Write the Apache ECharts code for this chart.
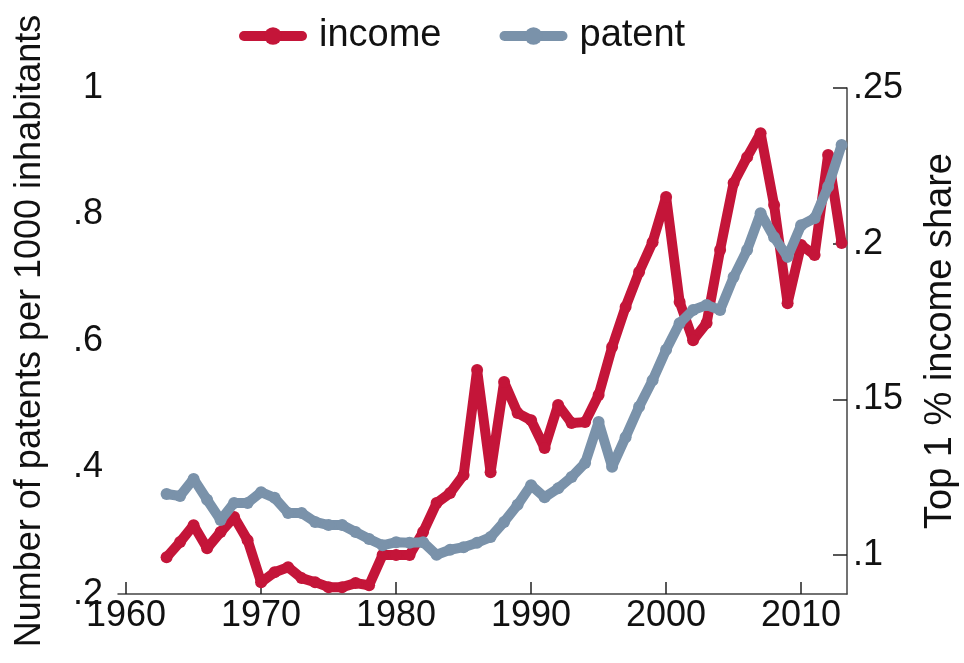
<!DOCTYPE html>
<html>
<head>
<meta charset="utf-8">
<script src="https://cdn.jsdelivr.net/npm/echarts@6/dist/echarts.min.js"></script>
<style>
  html, body { margin: 0; padding: 0; background: #fff; }
  #main { width: 964px; height: 663px; }
</style>
</head>
<body>
<div id="main"></div>
<script>
const years = [];
for (let y = 1963; y <= 2013; y++) years.push(y);

// top 1% income share (right axis)
const income = [
  0.0993, 0.1042, 0.1096, 0.1022, 0.1074, 0.1122, 0.1048, 0.0913, 0.0945, 0.0961,
  0.0926, 0.0913, 0.0897, 0.0897, 0.0910, 0.0903, 0.1000, 0.1000, 0.1000, 0.1074,
  0.1167, 0.1199, 0.1257, 0.1594, 0.1266, 0.1556, 0.1456, 0.1433, 0.1344, 0.1482,
  0.1424, 0.1427, 0.1514, 0.1668, 0.1797, 0.1909, 0.2005, 0.2150, 0.1813, 0.1690,
  0.1745, 0.1980, 0.2195, 0.2278, 0.2355, 0.2124, 0.1809, 0.1996, 0.1964, 0.2285,
  0.2002
];

// patents per 1000 inhabitants (left axis)
const patent = [
  0.358, 0.355, 0.382, 0.349, 0.317, 0.344, 0.344, 0.361, 0.352, 0.328,
  0.328, 0.314, 0.309, 0.309, 0.298, 0.287, 0.277, 0.282, 0.281, 0.282,
  0.262, 0.270, 0.274, 0.281, 0.290, 0.314, 0.341, 0.372, 0.353, 0.367,
  0.385, 0.407, 0.472, 0.401, 0.448, 0.496, 0.538, 0.586, 0.628, 0.649,
  0.657, 0.649, 0.701, 0.744, 0.802, 0.764, 0.733, 0.783, 0.794, 0.844,
  0.910
];

const xTicks = [1960, 1970, 1980, 1990, 2000, 2010];
const rightTicks = [0.1, 0.15, 0.2, 0.25];

const myChart = echarts.init(document.getElementById('main'));
const font = 'Liberation Sans, Arial, sans-serif';
const fmt = v => String(+v.toFixed(2)).replace(/^0\./, '.');

const option = {
  animation: false,
  textStyle: { fontFamily: font },
  legend: {
    top: 12,
    left: 234,
    itemWidth: 58,
    itemHeight: 22,
    itemGap: 58,
    lineStyle: { width: 10 },
    textStyle: { fontSize: 38, color: '#111', padding: [0, 0, 0, 12] },
    data: ['income', 'patent']
  },
  grid: {
    left: 118, right: 117, top: 88, bottom: 69,
    containLabel: false,
    outerBoundsMode: 'none'
  },
  xAxis: {
    type: 'value',
    min: 1959.4,
    max: 2013.4,
    axisLine: { show: true, lineStyle: { color: '#444', width: 1.5 } },
    axisTick: { show: true, inside: true, length: 12, customValues: xTicks, lineStyle: { color: '#222', width: 1.5 } },
    axisLabel: { customValues: xTicks, fontSize: 36, color: '#111', margin: 4, formatter: v => String(v) },
    splitLine: { show: false }
  },
  yAxis: [
    {
      type: 'value',
      position: 'left',
      min: 0.2,
      max: 1,
      interval: 0.2,
      axisLine: { show: false },
      axisTick: { show: false },
      axisLabel: { fontSize: 36, color: '#111', margin: 15, formatter: fmt },
      splitLine: { show: false },
      name: 'Number of patents per 1000 inhabitants',
      nameLocation: 'middle',
      nameRotate: 90,
      nameGap: 70,
      nameTextStyle: { fontSize: 36, color: '#111', padding: [0, 0, 0, 20] }
    },
    {
      type: 'value',
      position: 'right',
      min: 0.0875,
      max: 0.25,
      axisLine: { show: true, lineStyle: { color: '#444', width: 1.5 } },
      axisTick: { show: true, inside: true, length: 14, customValues: rightTicks, lineStyle: { color: '#222', width: 1.5 } },
      axisLabel: { customValues: rightTicks, fontSize: 36, color: '#111', margin: 6, formatter: fmt },
      splitLine: { show: false },
      name: 'Top 1 % income share',
      nameLocation: 'middle',
      nameRotate: 90,
      nameGap: 75,
      nameTextStyle: { fontSize: 38, color: '#111' }
    }
  ],
  series: [
    {
      name: 'income',
      type: 'line',
      yAxisIndex: 1,
      data: years.map((y, i) => [y, income[i]]),
      symbol: 'circle',
      symbolSize: 12,
      color: '#C41539',
      lineStyle: { width: 10, join: 'round', cap: 'round' },
      z: 2
    },
    {
      name: 'patent',
      type: 'line',
      yAxisIndex: 0,
      data: years.map((y, i) => [y, patent[i]]),
      symbol: 'circle',
      symbolSize: 12,
      color: '#7A92AA',
      lineStyle: { width: 10, join: 'round', cap: 'round' },
      z: 3
    }
  ]
};

myChart.setOption(option);
</script>
</body>
</html>
